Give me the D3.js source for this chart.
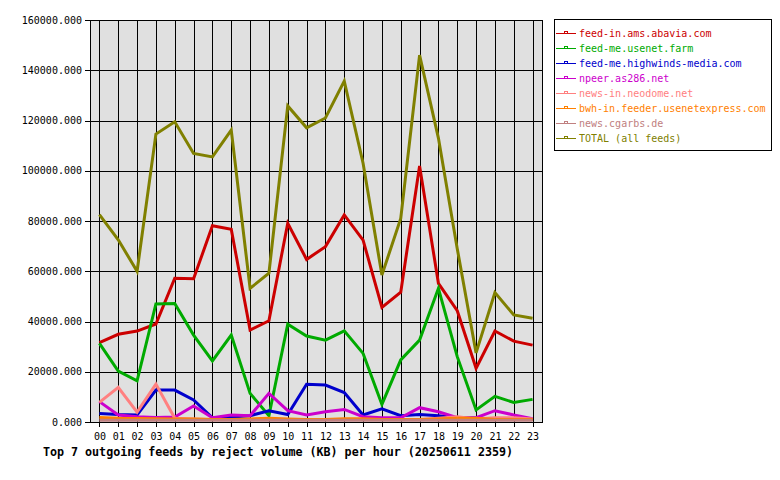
<!DOCTYPE html>
<html>
<head>
<meta charset="utf-8">
<script src="https://cdn.jsdelivr.net/npm/d3@7"></script>
<style>
  body { margin: 0; background: #fff; }
  svg { display: block; }
  text { font-family: "DejaVu Sans Mono", "Liberation Mono", monospace; }
</style>
</head>
<body>
<div id="chart"></div>
<script>
const hours = d3.range(24).map(h => String(h).padStart(2, '0'));
const yTicks = [0, 20000, 40000, 60000, 80000, 100000, 120000, 140000, 160000];

const feedNames = [
    'feed-in.ams.abavia.com',
    'feed-me.usenet.farm',
    'feed-me.highwinds-media.com',
    'npeer.as286.net',
    'news-in.neodome.net',
    'bwh-in.feeder.usenetexpress.com',
    'news.cgarbs.de',
    'TOTAL (all feeds)'
];
const feedColors = ['#cc0000', '#00aa00', '#0000cc', '#cc00cc', '#ff8080', '#ff8000', '#c08080', '#808000'];

const abavia = [31600, 34900, 36200, 39000, 57200, 57000, 78100, 76700, 36600, 40300, 79100, 64700,
    69800, 82400, 72400, 45600, 51700, 101900, 55200, 44300, 21400, 36200, 32200, 30600];
const usenetFarm = [31300, 20300, 16400, 47000, 47200, 34600, 24300, 34600, 11400, 2500, 38900, 34200,
    32600, 36300, 27300, 7000, 24700, 32600, 53200, 26000, 4800, 10200, 7800, 9000];
const highwinds = [3400, 3000, 2800, 12700, 12700, 8800, 1700, 2000, 2500, 4500, 3000, 15000,
    14700, 11700, 2800, 5200, 2500, 3000, 2500, 1700, 1600, 1200, 1100, 1000];
const npeer = [8100, 2800, 2100, 1800, 2000, 6400, 1700, 2800, 2500, 11400, 4500, 2800,
    4100, 5000, 2100, 1700, 1700, 5700, 4100, 1700, 1700, 4500, 2800, 1300];
const neodome = [7800, 13800, 3900, 15100, 1500, 1200, 1000, 1000, 1000, 1200, 1000, 1000,
    1000, 1000, 1000, 1000, 1000, 1000, 1500, 2100, 1200, 1700, 1700, 1200];
const usenetExpress = [1800, 1500, 1400, 1300, 1200, 1200, 1000, 1000, 1200, 1500, 1200, 1000,
    1000, 1300, 1300, 1000, 1000, 1000, 1200, 1500, 1500, 1000, 1000, 1000];
const cgarbs = [700, 700, 700, 700, 700, 700, 700, 700, 700, 700, 700, 700,
    700, 700, 700, 700, 700, 700, 700, 700, 700, 700, 700, 700];
const total = [82500, 72500, 60000, 114600, 119500, 106900, 105500, 116200, 53200, 59200, 125800, 117100,
    121000, 135700, 103000, 58500, 81000, 146000, 113000, 69000, 27500, 51500, 42600, 41300];

const seriesValues = [abavia, usenetFarm, highwinds, npeer, neodome, usenetExpress, cgarbs, total];
const series = feedNames.map((name, i) => ({ name, color: feedColors[i], values: seriesValues[i] }));

const width = 780, height = 480;
const plot = { left: 90, right: 542, top: 20, bottom: 422 };

const svg = d3.select('#chart').append('svg')
    .attr('width', width)
    .attr('height', height);

svg.append('rect')
    .attr('width', width).attr('height', height)
    .attr('fill', '#fff');

const x = d3.scalePoint()
    .domain(hours)
    .range([plot.left, plot.right])
    .padding(0.5);

const y = d3.scaleLinear()
    .domain([0, 160000])
    .range([plot.bottom, plot.top]);

// plot background
svg.append('rect')
    .attr('x', plot.left + 0.5)
    .attr('y', plot.top + 0.5)
    .attr('width', plot.right - plot.left)
    .attr('height', plot.bottom - plot.top)
    .attr('fill', '#e0e0e0');

// grid + ticks
const grid = svg.append('g')
    .attr('stroke', '#000')
    .attr('stroke-width', 1)
    .attr('shape-rendering', 'crispEdges');

grid.selectAll('.hgrid')
    .data(yTicks)
    .join('line')
    .attr('x1', plot.left - 5)
    .attr('x2', plot.right)
    .attr('y1', d => Math.round(y(d)) + 0.5)
    .attr('y2', d => Math.round(y(d)) + 0.5);

grid.selectAll('.vgrid')
    .data(hours)
    .join('line')
    .attr('x1', d => Math.round(x(d)) + 0.5)
    .attr('x2', d => Math.round(x(d)) + 0.5)
    .attr('y1', plot.top)
    .attr('y2', plot.bottom + 5);

svg.append('rect')
    .attr('x', plot.left + 0.5)
    .attr('y', plot.top + 0.5)
    .attr('width', plot.right - plot.left)
    .attr('height', plot.bottom - plot.top)
    .attr('fill', 'none')
    .attr('stroke', '#000')
    .attr('shape-rendering', 'crispEdges');

// y labels
svg.selectAll('.ylab')
    .data(yTicks)
    .join('text')
    .attr('x', 82)
    .attr('y', d => y(d))
    .attr('dy', '0.35em')
    .attr('text-anchor', 'end')
    .attr('font-size', 10)
    .attr('fill', '#000')
    .text(d => d.toFixed(3));

// x labels
svg.selectAll('.xlab')
    .data(hours)
    .join('text')
    .attr('x', d => x(d) + 0.5)
    .attr('y', 436)
    .attr('dy', '0.35em')
    .attr('text-anchor', 'middle')
    .attr('font-size', 10)
    .attr('fill', '#000')
    .text(d => d);

// lines
const line = d3.line()
    .x((d, i) => x(hours[i]))
    .y(d => y(d));

svg.append('g')
    .selectAll('path')
    .data(series)
    .join('path')
    .attr('fill', 'none')
    .attr('stroke', d => d.color)
    .attr('stroke-width', 3)
    .attr('stroke-linejoin', 'miter')
    .attr('d', d => line(d.values));

// title
svg.append('text')
    .attr('x', 43)
    .attr('y', 452)
    .attr('dy', '0.35em')
    .attr('font-size', 11.7)
    .attr('font-weight', 'bold')
    .attr('textLength', 470)
    .attr('fill', '#000')
    .text('Top 7 outgoing feeds by reject volume (KB) per hour (20250611 2359)');

// legend
const legend = svg.append('g');
legend.append('rect')
    .attr('x', 554.5).attr('y', 19.5)
    .attr('width', 217).attr('height', 131)
    .attr('fill', '#fff')
    .attr('stroke', '#000')
    .attr('shape-rendering', 'crispEdges');

const rows = legend.selectAll('.row')
    .data(series)
    .join('g')
    .attr('transform', (d, i) => `translate(0,${33 + i * 15})`);

rows.append('line')
    .attr('x1', 556).attr('x2', 576)
    .attr('y1', 0.5).attr('y2', 0.5)
    .attr('stroke', d => d.color)
    .attr('shape-rendering', 'crispEdges');

rows.append('rect')
    .attr('x', 564.5).attr('y', -1.5)
    .attr('width', 3).attr('height', 2)
    .attr('fill', '#fff')
    .attr('stroke', d => d.color)
    .attr('shape-rendering', 'crispEdges');

rows.append('text')
    .attr('x', 579)
    .attr('y', 0)
    .attr('dy', '0.35em')
    .attr('font-size', 10)
    .attr('fill', d => d.color)
    .text(d => d.name);
</script>
</body>
</html>
